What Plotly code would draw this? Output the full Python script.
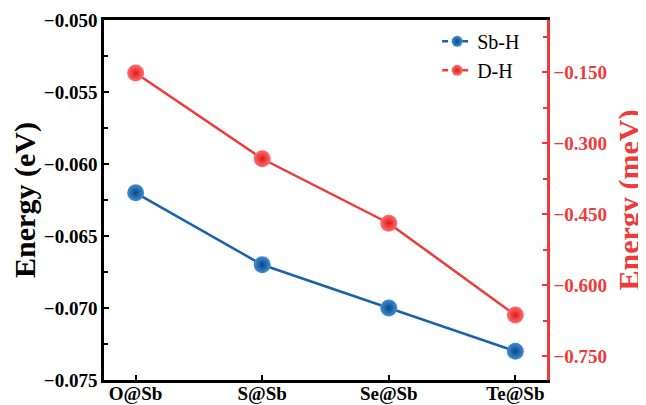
import plotly.graph_objects as go

categories = ["O@Sb", "S@Sb", "Se@Sb", "Te@Sb"]
sbh_ev = [-0.062, -0.067, -0.070, -0.073]
dh_mev = [-0.152, -0.333, -0.469, -0.663]
series_names = ["Sb-H", "D-H"]

BLUE = "#1a62ab"
RED = "#f03a3a"
FONT = "Liberation Serif"

blue_marker = dict(color="#3f8fd6", line=dict(width=0),
                   gradient=dict(type="radial", color="#0b4685"))
red_marker = dict(color="#ff7070", line=dict(width=0),
                  gradient=dict(type="radial", color="#e01818"))

fig = go.Figure()
fig.add_trace(go.Scatter(
    x=categories, y=sbh_ev, name=series_names[0], mode="lines+markers",
    line=dict(color=BLUE, width=2.5), marker=dict(size=17, **blue_marker),
    yaxis="y", showlegend=False))
fig.add_trace(go.Scatter(
    x=categories, y=dh_mev, name=series_names[1], mode="lines+markers",
    line=dict(color=RED, width=2.5), marker=dict(size=17, **red_marker),
    yaxis="y2", showlegend=False))
# legend entries (smaller symbols, as in the reference)
fig.add_trace(go.Scatter(
    x=[None], y=[None], name=series_names[0], mode="lines+markers",
    line=dict(color=BLUE, width=2.5, dash="6px,4px"), marker=dict(size=11, **blue_marker)))
fig.add_trace(go.Scatter(
    x=[None], y=[None], name=series_names[1], mode="lines+markers",
    line=dict(color=RED, width=2.5, dash="6px,4px"), marker=dict(size=11, **red_marker)))

fig.update_layout(
    width=638, height=397,
    margin=dict(l=96, r=99, t=12, b=25),
    paper_bgcolor="white", plot_bgcolor="white",
    font=dict(family=FONT, color="black"),
    showlegend=True,
    legend=dict(x=0.752, y=0.995, xanchor="left", yanchor="top",
                bgcolor="rgba(0,0,0,0)", font=dict(size=20, family=FONT),
                itemwidth=30, tracegroupgap=0),
    xaxis=dict(
        type="category", range=[-0.25, 3.25], automargin=False,
        showline=True, linecolor="black", linewidth=2.5, mirror=True,
        ticks="inside", ticklen=5, tickwidth=2, tickcolor="black",
        showgrid=False, zeroline=False, ticklabelstandoff=-6,
        tickfont=dict(size=19, family=FONT, weight="bold"),
    ),
    yaxis=dict(
        range=[-0.075, -0.050], dtick=0.005, tick0=-0.075, tickformat=".3f",
        automargin=False,
        showline=True, linecolor="black", linewidth=2.5,
        ticks="inside", ticklen=5, tickwidth=2, tickcolor="black",
        minor=dict(dtick=0.0025, ticks="inside", ticklen=4, tickwidth=1.5, tickcolor="black", showgrid=False),
        showgrid=False, zeroline=False,
        tickfont=dict(size=19, family=FONT, weight="bold"),
        title=dict(text="Energy (eV)", font=dict(size=30, family=FONT, weight="bold"), standoff=9),
    ),
    yaxis2=dict(
        overlaying="y", side="right",
        range=[-0.80, -0.04], dtick=0.15, tick0=-0.15, tickformat=".3f",
        automargin=False,
        showline=True, linecolor=RED, linewidth=2.5,
        ticks="inside", ticklen=5, tickwidth=2, tickcolor=RED,
        minor=dict(dtick=0.075, ticks="inside", ticklen=4, tickwidth=1.5, tickcolor=RED, showgrid=False),
        showgrid=False, zeroline=False,
        tickfont=dict(size=19, family=FONT, weight="bold", color=RED),
        title=dict(text="Energy (meV)", font=dict(size=30, family=FONT, weight="bold", color=RED), standoff=12),
    ),
)

fig.write_html("out.html")
